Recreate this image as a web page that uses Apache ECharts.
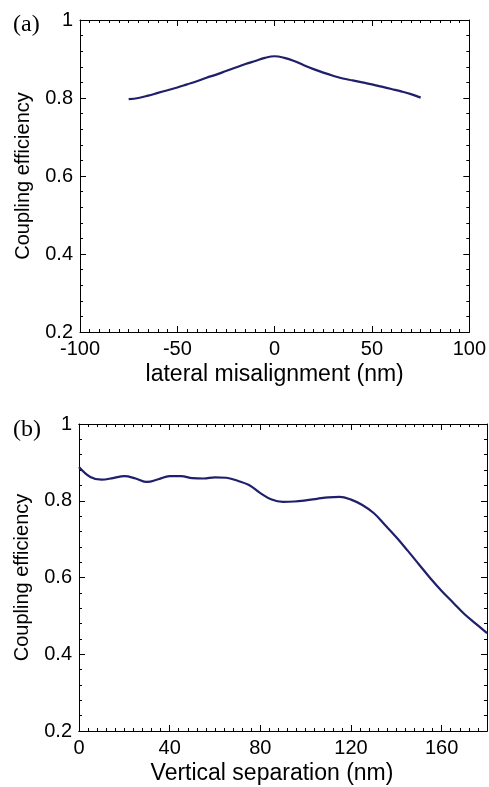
<!DOCTYPE html>
<html>
<head>
<meta charset="utf-8">
<script src="https://cdn.jsdelivr.net/npm/echarts@6/dist/echarts.min.js"></script>
<style>
  html, body { margin: 0; padding: 0; background: #fff; }
  #chart { width: 489px; height: 787px; }
</style>
</head>
<body>
<div id="chart"></div>
<script>
// (a) coupling efficiency vs lateral misalignment
const lateralNm = [-75, -70, -65, -60, -55, -50, -45, -40, -35, -30, -25, -20, -15, -10, -5,
  0, 5, 10, 15, 20, 25, 30, 35, 40, 45, 50, 55, 60, 65, 70, 75];
const lateralEff = [0.797, 0.800, 0.806, 0.813, 0.820, 0.827, 0.835, 0.843, 0.852, 0.860, 0.869,
  0.878, 0.887, 0.895, 0.903, 0.907, 0.903, 0.895, 0.884, 0.874, 0.865, 0.857, 0.850, 0.845,
  0.840, 0.835, 0.829, 0.823, 0.817, 0.810, 0.801];

// (b) coupling efficiency vs vertical separation
const verticalNm = [0, 5, 10, 15, 20, 25, 30, 35, 40, 45, 50, 55, 60, 65, 70, 75, 80, 85, 90,
  95, 100, 105, 110, 115, 120, 125, 130, 135, 140, 145, 150, 155, 160, 165, 170, 175, 180];
const verticalEff = [0.888, 0.862, 0.855, 0.859, 0.864, 0.858, 0.849, 0.856, 0.864, 0.864,
  0.859, 0.858, 0.861, 0.860, 0.852, 0.841, 0.820, 0.803, 0.797, 0.798, 0.801, 0.805, 0.809,
  0.810, 0.803, 0.789, 0.768, 0.737, 0.705, 0.670, 0.634, 0.598, 0.565, 0.535, 0.505, 0.480, 0.455];

const FONT = 'Liberation Sans, Arial, sans-serif';
const LINE = '#1f1f6b';
const black = '#000';

function pairs(xs, ys) { return xs.map((x, i) => [x, ys[i]]); }

function valueAxis(opts) {
  return Object.assign({
    type: 'value',
    axisLine: { show: true, onZero: false, lineStyle: { color: black, width: 1 } },
    axisTick: { show: true, inside: true, length: 6, lineStyle: { color: black } },
    minorTick: { show: true, splitNumber: 5, length: 3, lineStyle: { color: black } },
    splitLine: { show: false },
    axisLabel: { show: false }
  }, opts);
}

const yLabelStyle = {
  show: true, fontFamily: FONT, fontSize: 20, color: black, margin: 7,
  formatter: v => (Math.abs(v - 1) < 1e-9 ? '1' : v.toFixed(1))
};
const xLabelStyle = { show: true, fontFamily: FONT, fontSize: 20, color: black, margin: 7 };
const xNameStyle = { fontFamily: FONT, fontSize: 23, color: black };
const yNameStyle = { fontFamily: FONT, fontSize: 20, color: black };

const option = {
  animation: false,
  backgroundColor: '#fff',
  grid: [
    { left: 80, right: 17, top: 20, height: 312 },
    { left: 79, right: 2, top: 424, height: 307 }
  ],
  xAxis: [
    // panel (a)
    valueAxis({ gridIndex: 0, position: 'bottom', min: -100, max: 100, interval: 50,
      minorTick: { show: true, splitNumber: 10, length: 3, lineStyle: { color: black } },
      axisLabel: xLabelStyle,
      name: 'lateral misalignment (nm)', nameLocation: 'middle', nameGap: 31,
      nameTextStyle: xNameStyle }),
    valueAxis({ gridIndex: 0, position: 'top', min: -100, max: 100, interval: 50,
      minorTick: { show: true, splitNumber: 10, length: 3, lineStyle: { color: black } } }),
    // panel (b): major ticks every 40, fine ticks every 4
    valueAxis({ gridIndex: 1, position: 'bottom', min: 0, max: 180, interval: 40,
      minorTick: { show: false },
      axisLabel: Object.assign({}, xLabelStyle, { showMaxLabel: false,
        formatter: v => (v % 40 === 0 && v < 180 ? String(v) : '') }),
      name: 'Vertical separation (nm)', nameLocation: 'middle', nameGap: 31,
      nameTextStyle: Object.assign({}, xNameStyle, { padding: [0, 22, 0, 0] }) }),
    valueAxis({ gridIndex: 1, position: 'bottom', min: 0, max: 180, interval: 4,
      axisTick: { show: true, inside: true, length: 3, lineStyle: { color: black } },
      minorTick: { show: false } }),
    valueAxis({ gridIndex: 1, position: 'top', min: 0, max: 180, interval: 40,
      minorTick: { show: false } }),
    valueAxis({ gridIndex: 1, position: 'top', min: 0, max: 180, interval: 4,
      axisTick: { show: true, inside: true, length: 3, lineStyle: { color: black } },
      minorTick: { show: false } })
  ],
  yAxis: [
    valueAxis({ gridIndex: 0, position: 'left', min: 0.2, max: 1, interval: 0.2,
      axisLabel: yLabelStyle,
      name: 'Coupling efficiency', nameLocation: 'middle', nameGap: 47,
      nameTextStyle: yNameStyle }),
    valueAxis({ gridIndex: 0, position: 'right', min: 0.2, max: 1, interval: 0.2 }),
    valueAxis({ gridIndex: 1, position: 'left', min: 0.2, max: 1, interval: 0.2,
      axisLabel: yLabelStyle,
      name: 'Coupling efficiency', nameLocation: 'middle', nameGap: 47,
      nameTextStyle: yNameStyle }),
    valueAxis({ gridIndex: 1, position: 'right', min: 0.2, max: 1, interval: 0.2 })
  ],
  series: [
    {
      type: 'line', xAxisIndex: 0, yAxisIndex: 0,
      data: pairs(lateralNm, lateralEff),
      smooth: 0.4, showSymbol: false,
      lineStyle: { color: LINE, width: 2.2 }
    },
    {
      type: 'line', xAxisIndex: 2, yAxisIndex: 2,
      data: pairs(verticalNm, verticalEff),
      smooth: 0.4, showSymbol: false,
      lineStyle: { color: LINE, width: 2.2 }
    }
  ],
  graphic: [
    { type: 'text', left: 13, top: 13,
      style: { text: '(a)', font: '24px "Liberation Serif", "Times New Roman", serif', fill: black } },
    { type: 'text', left: 13, top: 418,
      style: { text: '(b)', font: '24px "Liberation Serif", "Times New Roman", serif', fill: black } }
  ]
};

const chart = echarts.init(document.getElementById('chart'), null, { renderer: 'canvas' });
chart.setOption(option);
</script>
</body>
</html>
